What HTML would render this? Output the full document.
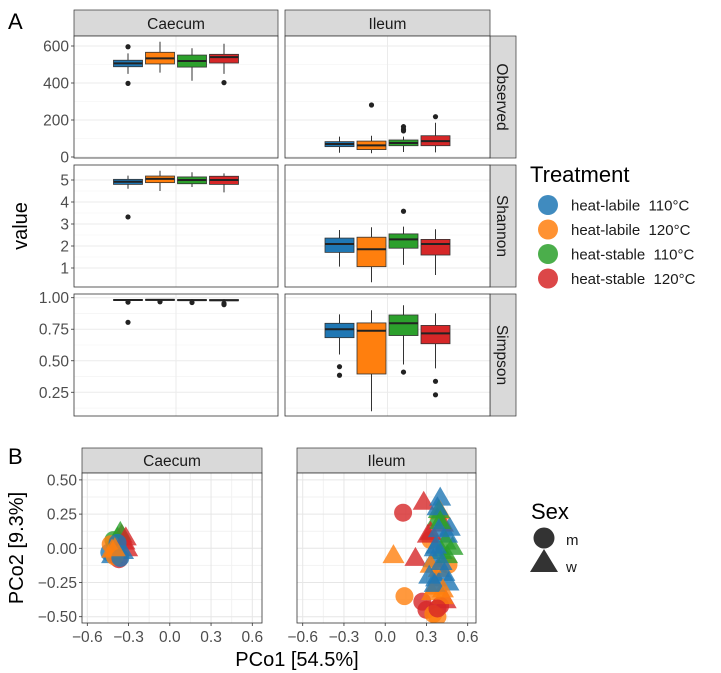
<!DOCTYPE html>
<html><head><meta charset="utf-8"><style>
body{margin:0;background:#fff;}
svg{display:block;font-family:"Liberation Sans",Arial,sans-serif;}
</style></head><body>
<svg id="c" width="721" height="673" viewBox="0 0 721 673" xmlns="http://www.w3.org/2000/svg"></svg>
<script>
const treatments = ["heat-labile  110°C","heat-labile  120°C","heat-stable  110°C","heat-stable  120°C"];
const colors = ["#1f77b4","#ff7f0e","#2ca02c","#d62728"];
const metrics = ["Observed","Shannon","Simpson"];
const sites = ["Caecum","Ileum"];
// box stats per [metric][site][treatment]: [lo, q1, median, q3, hi]
const obsCaecum = [[449,488,506,523,560],[456,503,533,566,623],[412,486,519,551,588],[449,508,540,555,612]];
const obsIleum = [[23,56,70,83,110],[20,40,63,86,115],[27,61,76,92,110],[25,61,86,115,185]];
const shaCaecum = [[4.6,4.8,4.92,5.03,5.2],[4.5,4.88,5.05,5.18,5.42],[4.68,4.83,5.0,5.14,5.35],[4.44,4.8,5.0,5.17,5.3]];
const shaIleum = [[1.06,1.71,2.09,2.36,2.73],[0.35,1.06,1.85,2.4,2.85],[1.14,1.9,2.3,2.55,2.88],[0.68,1.59,2.09,2.3,2.76]];
const simCaecum = [[0.975,0.978,0.982,0.986,0.99],[0.975,0.979,0.983,0.987,0.99],[0.972,0.977,0.981,0.985,0.99],[0.97,0.976,0.98,0.985,0.99]];
const simIleum = [[0.55,0.683,0.75,0.797,0.868],[0.10,0.395,0.738,0.80,0.90],[0.47,0.70,0.797,0.863,0.94],[0.44,0.635,0.717,0.78,0.876]];
const obsCaecumOut = [[596,398],[],[],[402]];
const obsIleumOut = [[],[281],[164,150,141],[218]];
const shaCaecumOut = [[3.32],[],[],[]];
const shaIleumOut = [[],[],[3.58],[]];
const simCaecumOut = [[0.965,0.805],[0.968],[0.962],[0.955,0.945]];
const simIleumOut = [[0.453,0.385],[],[0.41],[0.337,0.23]];
const obsTicks = [0,200,400,600];
const shaTicks = [1,2,3,4,5];
const simTicks = [0.25,0.5,0.75,1.0];
const simTickLabels = ["0.25","0.50","0.75","1.00"];
// PCoA points: x, y, treatment index, sex (0=m circle,1=w triangle)
const caecumX = [-0.42,-0.40,-0.38,-0.35,-0.33,-0.31,-0.44,-0.41,-0.37,-0.36,-0.39,-0.34,-0.43,-0.40,-0.32,-0.38,-0.42,-0.36,-0.40];
const caecumY = [-0.05,0.02,0.08,0.10,0.05,0.0,-0.03,0.06,-0.08,0.12,0.0,-0.02,0.03,-0.06,0.08,0.04,-0.01,-0.07,0.0];
const caecumT = [0,1,2,3,3,3,0,2,3,2,1,0,1,1,3,0,1,0,1];
const caecumS = [1,0,1,1,1,1,0,0,0,1,1,1,0,0,1,0,1,0,1];
const ileumX = [0.13,0.28,0.40,0.40,0.06,0.22,0.33,0.46,0.14,0.27,0.37,0.49,0.45,0.42,0.47,0.38,0.33,0.44,0.41,0.35,0.39,0.43,0.46,0.36,0.34,0.40,0.44,0.30,0.38,0.42,0.33,0.36,0.31,0.45,0.39,0.35,0.32,0.38,0.40,0.37,0.41,0.36,0.39,0.42,0.38];
const ileumY = [0.26,0.34,0.37,0.27,-0.05,-0.07,0.06,-0.12,-0.35,-0.39,-0.22,0.01,0.10,0.18,0.15,0.22,0.12,0.05,-0.02,-0.08,-0.15,-0.18,-0.25,-0.28,-0.32,-0.42,-0.38,-0.45,-0.50,-0.30,-0.12,0.0,0.10,-0.05,0.28,-0.48,-0.20,0.30,0.20,0.02,-0.10,-0.26,0.14,-0.35,-0.44];
const ileumT = [3,3,0,1,1,3,1,1,1,3,0,2,0,3,0,2,3,2,2,0,1,0,0,1,1,3,3,3,1,1,1,0,3,2,2,1,0,0,2,0,0,0,0,1,3];
const ileumS = [0,1,1,1,1,1,0,0,0,0,1,1,1,1,1,1,1,1,1,1,1,1,1,1,1,0,1,0,0,1,1,1,1,1,1,0,1,1,1,1,1,1,1,1,0];
const pcoTicks = [-0.6,-0.3,0,0.3,0.6];
const pcoTickLabels = ["\u22120.6","\u22120.3","0.0","0.3","0.6"];
const pcoYTicks = [-0.5,-0.25,0,0.25,0.5];
const pcoYTickLabels = ["\u22120.50","\u22120.25","0.00","0.25","0.50"];

const svg = document.getElementById('c');
const NS = "http://www.w3.org/2000/svg";
function el(tag, attrs, parent){const e=document.createElementNS(NS,tag);for(const k in attrs)e.setAttribute(k,attrs[k]);(parent||svg).appendChild(e);return e;}
function txt(s, attrs, parent){const e=el('text',attrs,parent);e.textContent=s;return e;}

// ---------- Panel A ----------
const colX = [[74,278],[285,490]];
const rowY = [[36,158],[165,287],[294,416]];
const yScales = [
  v => 157 - v*(111/600),
  v => 180 - (v-5)*22,
  v => 297.7 + (1-v)*126.1
];
const boxData = [[obsCaecum,obsIleum],[shaCaecum,shaIleum],[simCaecum,simIleum]];
const outData = [[obsCaecumOut,obsIleumOut],[shaCaecumOut,shaIleumOut],[simCaecumOut,simIleumOut]];
const tickSets = [obsTicks,shaTicks,simTicks];
const tickLabs = [obsTicks.map(String),shaTicks.map(String),simTickLabels];
const minorA = [[100,300,500],[1.5,2.5,3.5,4.5],[0.375,0.625,0.875,0.125]];

const la=txt("A",{x:8,y:29,'font-size':22,fill:'#000'});



sites.forEach((s,c)=>{
  const [x0,x1]=colX[c];
  const st=el('rect',{x:x0,y:10,width:x1-x0,height:26,fill:'#d9d9d9',stroke:'#333','stroke-width':0.7});
  
  
  const t=txt(s,{x:(x0+x1)/2,y:29,'text-anchor':'middle','font-size':15.5,fill:'#1a1a1a'});
  
  
});
metrics.forEach((m,r)=>{
  const [y0,y1]=rowY[r];
  const st=el('rect',{x:490,y:y0,width:26,height:y1-y0,fill:'#d9d9d9',stroke:'#333','stroke-width':0.7});
  
  
  const t=txt(m,{x:0,y:0,'text-anchor':'middle','font-size':15.5,fill:'#1a1a1a',transform:`translate(497,${(y0+y1)/2}) rotate(90)`});
  
  
  const ys=yScales[r];
  sites.forEach((s,c)=>{
    const [x0,x1]=colX[c];
    const g=el('g',{});
    
    
    el('rect',{x:x0,y:y0,width:x1-x0,height:y1-y0,fill:'#fff'},g);
    minorA[r].forEach(v=>{const y=ys(v);if(y>y0&&y<y1)el('line',{x1:x0,x2:x1,y1:y,y2:y,stroke:'#f2f2f2','stroke-width':0.6},g);});
    tickSets[r].forEach(v=>{const y=ys(v);el('line',{x1:x0,x2:x1,y1:y,y2:y,stroke:'#ebebeb','stroke-width':1},g);});
    el('line',{x1:(x0+x1)/2,x2:(x0+x1)/2,y1:y0,y2:y1,stroke:'#ebebeb','stroke-width':1},g);
    const centers=[0,1,2,3].map(i=>(x0+x1)/2-48+i*32);
    boxData[r][c].forEach((b,i)=>{
      const cx=centers[i], w=29;
      const bg=el('g',{},g);
      
      
      el('line',{x1:cx,x2:cx,y1:ys(b[0]),y2:ys(b[4]),stroke:'#333','stroke-width':1},bg);
      el('rect',{x:cx-w/2,y:ys(b[3]),width:w,height:Math.max(1,ys(b[1])-ys(b[3])),fill:colors[i],stroke:'#333','stroke-width':0.8},bg);
      el('line',{x1:cx-w/2,x2:cx+w/2,y1:ys(b[2]),y2:ys(b[2]),stroke:'#222','stroke-width':2},bg);
      outData[r][c][i].forEach(v=>{
        const o=el('circle',{cx:cx,cy:ys(v),r:2.6,fill:'#222'},bg);
        
        
      });
    });
    el('rect',{x:x0,y:y0,width:x1-x0,height:y1-y0,fill:'none',stroke:'#333','stroke-width':0.8},g);
  });
  tickSets[r].forEach((v,k)=>{
    const y=ys(v);
    el('line',{x1:71,x2:74,y1:y,y2:y,stroke:'#333','stroke-width':0.8});
    const t=txt(tickLabs[r][k],{x:69,y:y+5.5,'text-anchor':'end','font-size':15.5,fill:'#4d4d4d'});
    
    
  });
});
const yt=txt("value",{x:0,y:0,'text-anchor':'middle','font-size':20,fill:'#000',transform:'translate(27,226) rotate(-90)'});



// Treatment legend
const lt=txt("Treatment",{x:530,y:182,'font-size':22,fill:'#000'});


treatments.forEach((t,i)=>{
  const y=205+i*24.5;
  const g=el('g',{});
  
  
  el('circle',{cx:548,cy:y,r:10,fill:colors[i],'fill-opacity':0.85},g);
  txt(t,{x:571,y:y+5.5,'font-size':15,fill:'#1a1a1a'},g).style.whiteSpace='pre';
});

// ---------- Panel B ----------
const pb=txt("B",{x:8,y:464,'font-size':22,fill:'#000'});


const bCols=[[82,262],[297,476]];
const bY0=473,bY1=623;
const yB=v=>548.3-v*136.8;
const xBs=[v=>169.8+v*137.5, v=>385.2+v*137.5];
const pts=[[caecumX,caecumY,caecumT,caecumS],[ileumX,ileumY,ileumT,ileumS]];
sites.forEach((s,c)=>{
  const [x0,x1]=bCols[c];
  const st=el('rect',{x:x0,y:448,width:x1-x0,height:25,fill:'#d9d9d9',stroke:'#333','stroke-width':0.7});
  
  
  const t=txt(s,{x:(x0+x1)/2,y:466,'text-anchor':'middle','font-size':15.5,fill:'#1a1a1a'});
  
  
  const g=el('g',{});
  
  
  const clipId='clip'+c;
  const cp=el('clipPath',{id:clipId},g);el('rect',{x:x0,y:bY0,width:x1-x0,height:bY1-bY0},cp);
  el('rect',{x:x0,y:bY0,width:x1-x0,height:bY1-bY0,fill:'#fff'},g);
  const xs=xBs[c];
  [-0.45,-0.15,0.15,0.45].forEach(v=>el('line',{x1:xs(v),x2:xs(v),y1:bY0,y2:bY1,stroke:'#f2f2f2'},g));
  [-0.375,-0.125,0.125,0.375].forEach(v=>el('line',{x1:x0,x2:x1,y1:yB(v),y2:yB(v),stroke:'#f2f2f2'},g));
  pcoTicks.forEach(v=>el('line',{x1:xs(v),x2:xs(v),y1:bY0,y2:bY1,stroke:'#e6e6e6'},g));
  pcoYTicks.forEach(v=>el('line',{x1:x0,x2:x1,y1:yB(v),y2:yB(v),stroke:'#e6e6e6'},g));
  const pg=el('g',{'clip-path':`url(#${clipId})`},g);
  const [X,Y,T,S]=pts[c];
  X.forEach((xv,i)=>{
    const px=xs(xv),py=yB(Y[i]);
    let m;
    if(S[i]===0) m=el('circle',{cx:px,cy:py,r:9,fill:colors[T[i]],'fill-opacity':0.8},pg);
    else m=el('polygon',{points:`${px},${py-11} ${px-11},${py+8} ${px+11},${py+8}`,fill:colors[T[i]],'fill-opacity':0.8},pg);
    
    
  });
  el('rect',{x:x0,y:bY0,width:x1-x0,height:bY1-bY0,fill:'none',stroke:'#333','stroke-width':0.8},g);
  pcoTicks.forEach((v,k)=>{
    el('line',{x1:xs(v),x2:xs(v),y1:bY1,y2:bY1+3,stroke:'#333','stroke-width':0.8});
    const t=txt(pcoTickLabels[k],{x:xs(v),y:642,'text-anchor':'middle','font-size':15.5,fill:'#4d4d4d'});
    
    
  });
});
pcoYTicks.forEach((v,k)=>{
  el('line',{x1:79,x2:82,y1:yB(v),y2:yB(v),stroke:'#333','stroke-width':0.8});
  const t=txt(pcoYTickLabels[k],{x:77,y:yB(v)+5.5,'text-anchor':'end','font-size':15.5,fill:'#4d4d4d'});
  
  
});
const xtB=txt("PCo1 [54.5%]",{x:297,y:666,'text-anchor':'middle','font-size':20,fill:'#000'});


const ytB=txt("PCo2 [9.3%]",{x:0,y:0,'text-anchor':'middle','font-size':20,fill:'#000',transform:'translate(23,548) rotate(-90)'});



// Sex legend
const st2=txt("Sex",{x:531,y:519,'font-size':22,fill:'#000'});


const gm=el('g',{});
el('circle',{cx:544,cy:538,r:10.5,fill:'#333'},gm);
txt("m",{x:566,y:545,'font-size':15,fill:'#1a1a1a'},gm);
const gw=el('g',{});
el('polygon',{points:'544,549 530,572 558,572',fill:'#333'},gw);
txt("w",{x:566,y:572,'font-size':15,fill:'#1a1a1a'},gw);
</script>
</body></html>
